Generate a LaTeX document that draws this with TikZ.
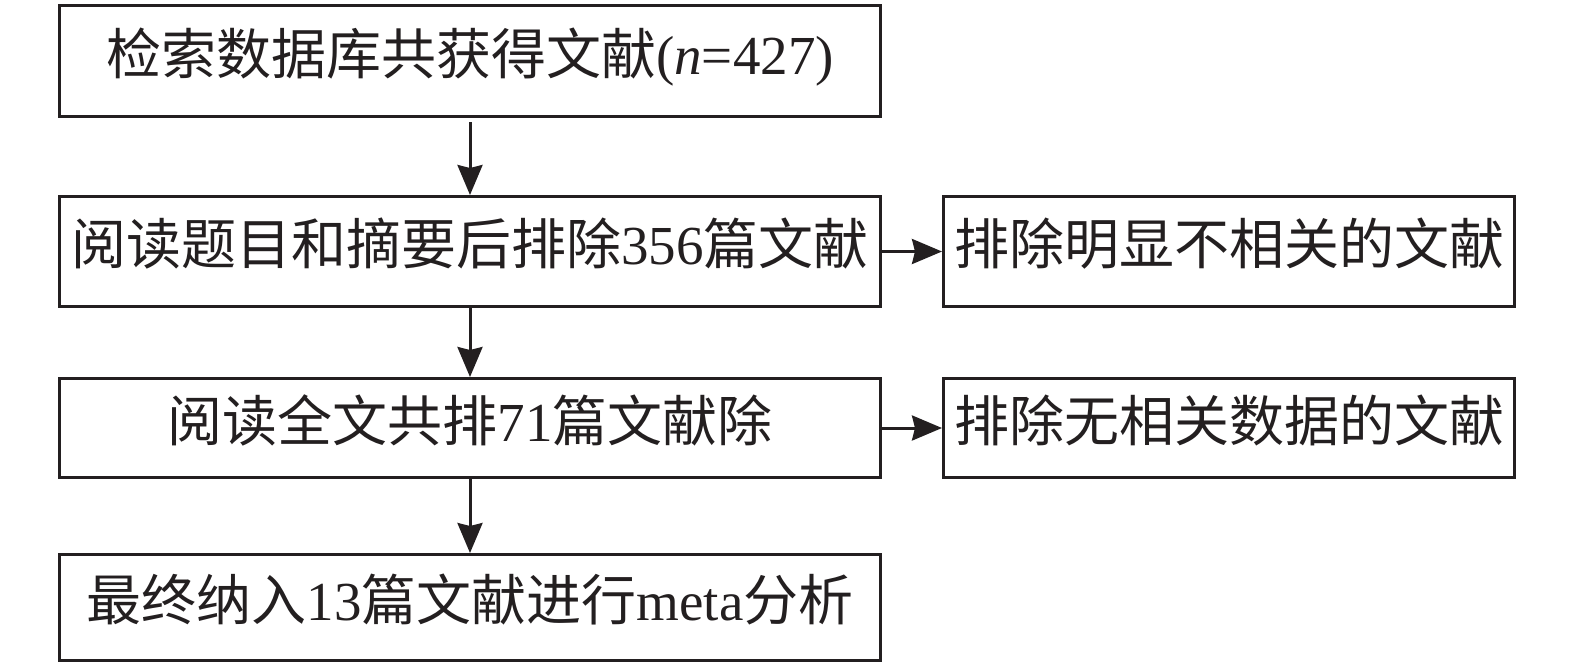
\documentclass[tikz,border=0pt]{standalone}
\usepackage{fontspec}
\setmainfont{Liberation Serif}
\newfontfamily\cjk{Noto Sans CJK SC}
\usetikzlibrary{arrows.meta}
\definecolor{ink}{HTML}{231F20}
\newcommand\boxtext[1]{\fontsize{55}{60}\selectfont\raisebox{-13pt}[0pt][0pt]{#1}}
\begin{document}
\begin{tikzpicture}[x=1pt,y=-1pt,
  box/.style={draw=ink,line width=3pt,inner sep=0pt,text=ink,minimum width=821pt},
  rbox/.style={box,minimum width=571pt},
  conn/.style={draw=ink,line width=3pt,-{Stealth[length=30pt,width=25pt,inset=3pt]}}]
\useasboundingbox (0,0) rectangle (1575,667);
\node[box,minimum height=111pt] (b1) at (470,61)
  {\boxtext{{\cjk 检索数据库共获得文献}(\textit{n}=427)}};
\node[box,minimum height=110pt] (b2) at (470,251.5)
  {\boxtext{{\cjk 阅读题目和摘要后排除}356{\cjk 篇文献}}};
\node[box,minimum height=99pt] (b3) at (470,428)
  {\boxtext{{\cjk 阅读全文共排}71{\cjk 篇文献除}}};
\node[box,minimum height=106pt] (b4) at (470,607.5)
  {\boxtext{{\cjk 最终纳入}13{\cjk 篇文献进行}meta{\cjk 分析}}};
\node[rbox,minimum height=110pt] (r1) at (1229,251.5)
  {\boxtext{\cjk 排除明显不相关的文献}};
\node[rbox,minimum height=99pt] (r2) at (1229,428)
  {\boxtext{\cjk 排除无相关数据的文献}};
\draw[conn,shorten <=4pt] (b1.south) -- (b2.north);
\draw[conn] (b2.south) -- (b3.north);
\draw[conn] (b3.south) -- (b4.north);
\draw[conn] (b2.east) -- (r1.west);
\draw[conn] (b3.east) -- (r2.west);
\end{tikzpicture}
\end{document}
